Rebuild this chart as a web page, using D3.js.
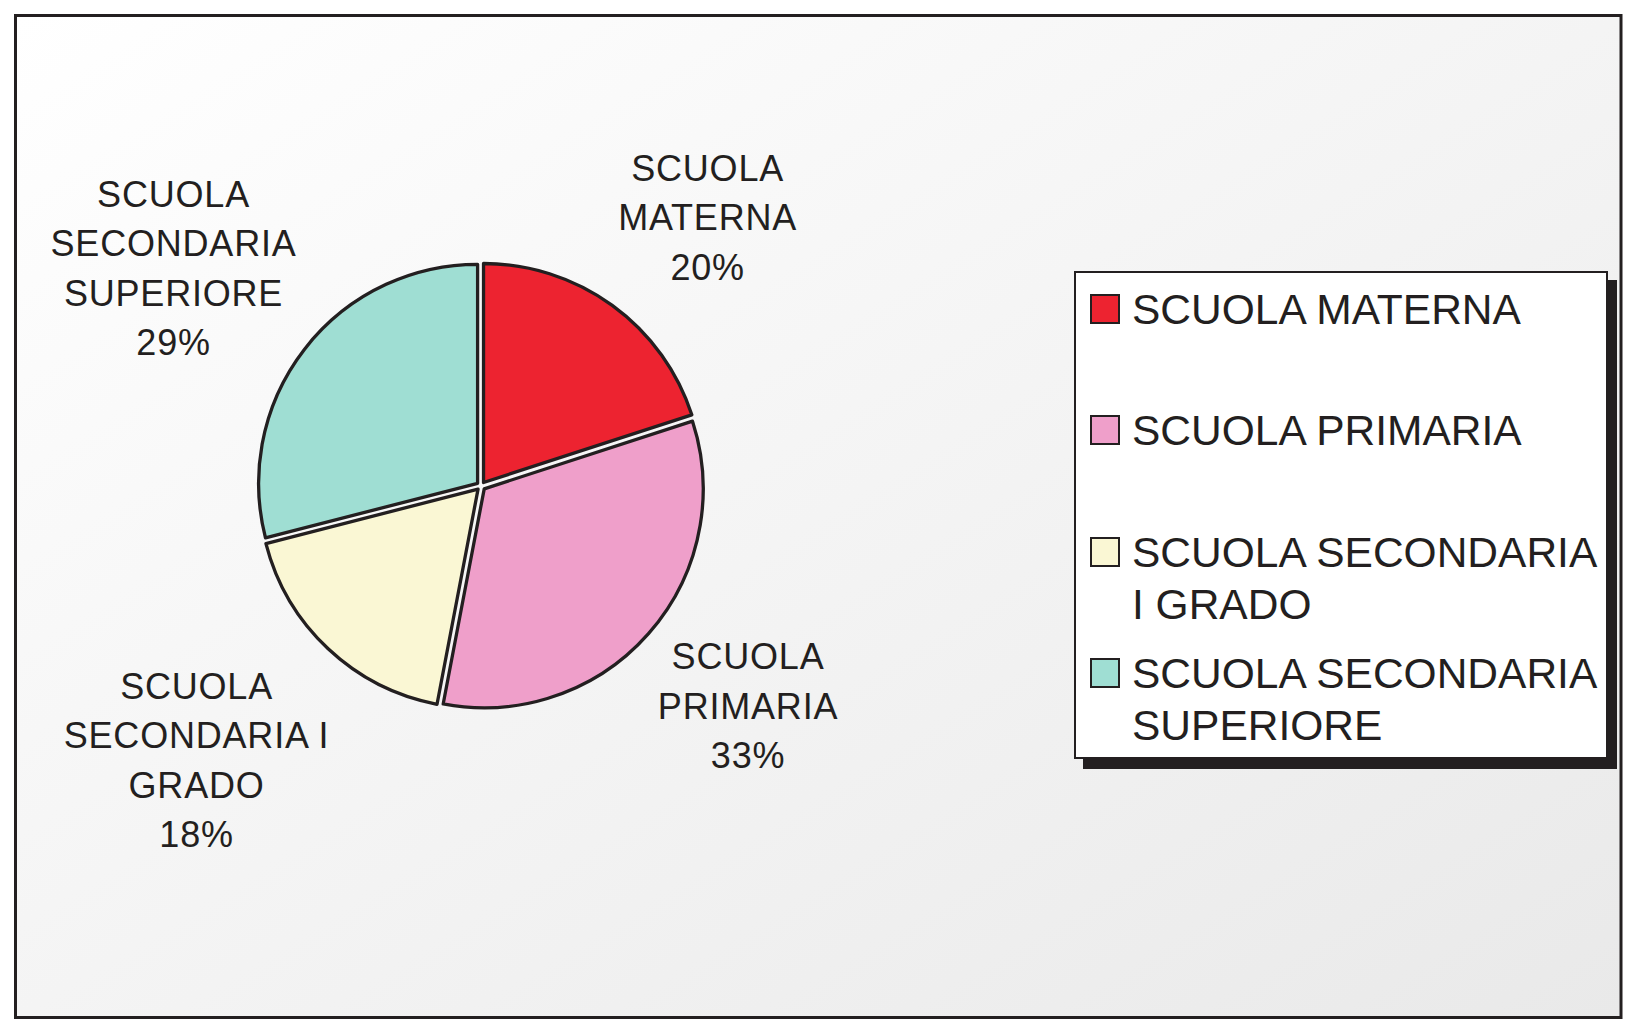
<!DOCTYPE html>
<html>
<head>
<meta charset="utf-8">
<script src="https://cdn.jsdelivr.net/npm/d3@7"></script>
<style>
  html, body { margin: 0; padding: 0; background: #ffffff; }
  svg { display: block; }
  text { font-family: "Liberation Sans", Arial, Helvetica, sans-serif; fill: #231f20; }
</style>
</head>
<body>
<div id="chart"></div>
<script>
// data
var categories = ['SCUOLA MATERNA', 'SCUOLA PRIMARIA', 'SCUOLA SECONDARIA I GRADO', 'SCUOLA SECONDARIA SUPERIORE'];
var values = [20, 33, 18, 29];
var sliceLabels = [['SCUOLA', 'MATERNA'], ['SCUOLA', 'PRIMARIA'], ['SCUOLA', 'SECONDARIA I', 'GRADO'], ['SCUOLA', 'SECONDARIA', 'SUPERIORE']];
var legendLabels = [['SCUOLA MATERNA'], ['SCUOLA PRIMARIA'], ['SCUOLA SECONDARIA', 'I GRADO'], ['SCUOLA SECONDARIA', 'SUPERIORE']];
var colors = ['#ed2330', '#ef9fca', '#faf7d4', '#9fded3'];

var W = 1640, H = 1034;
var ink = '#231f20';

var svg = d3.select('#chart').
    append('svg').
    attr('width', W).
    attr('height', H);

// background gradient + frame
var grad = svg.append('defs').append('linearGradient').
    attr('id', 'bg').
    attr('x1', '0%').attr('y1', '0%').
    attr('x2', '100%').attr('y2', '100%');
grad.append('stop').attr('offset', '0%').attr('stop-color', '#ffffff');
grad.append('stop').attr('offset', '100%').attr('stop-color', '#e9e9e9');

svg.append('rect').
    attr('x', 15.5).attr('y', 15.5).
    attr('width', 1605.5).attr('height', 1002).
    attr('fill', 'url(#bg)').
    attr('stroke', ink).
    attr('stroke-width', 3);

// pie
var cx = 481, cy = 486, r = 219;
var explode = 4.3; // slices pushed out a little so white gaps show

var pie = d3.pie().sort(null).value(function(d) { return d; });
var arcs = pie(values);

var arc = d3.arc().
    innerRadius(0).
    outerRadius(r);

var labelArc = d3.arc().innerRadius(360).outerRadius(360);
// small nudges so labels sit like in the original
var labelNudge = [[15, 23], [-3, -18], [-38, 12], [-23, 3]];

var g = svg.append('g').attr('transform', 'translate(' + cx + ',' + cy + ')');

g.selectAll('path.slice').
    data(arcs).
    enter().
    append('path').
    attr('class', 'slice').
    attr('d', arc).
    attr('transform', function(d) {
	var a = (d.startAngle + d.endAngle) / 2;
	return 'translate(' + (explode * Math.sin(a)) + ',' + (-explode * Math.cos(a)) + ')';
    }).
    attr('fill', function(d, i) { return colors[i]; }).
    attr('stroke', ink).
    attr('stroke-width', 3.3).
    attr('stroke-linejoin', 'round');

var lineH = 49.5;
var labels = g.selectAll('text.lab').
    data(arcs).
    enter().
    append('text').
    attr('class', 'lab').
    attr('text-anchor', 'middle').
    style('font-size', '36px').
    style('letter-spacing', '0.8px').
    attr('transform', function(d, i) {
	var c = labelArc.centroid(d);
	return 'translate(' + (c[0] + labelNudge[i][0]) + ',' + (c[1] + labelNudge[i][1]) + ')';
    });

labels.each(function(d, i) {
    var lines = sliceLabels[i].concat([values[i] + '%']);
    var first = -(lines.length - 1) * lineH / 2 + 12.5;
    d3.select(this).selectAll('tspan').
	data(lines).
	enter().
	append('tspan').
	attr('x', 0).
	attr('y', function(l, j) { return first + j * lineH; }).
	text(function(l) { return l; });
});

// legend
var lg = svg.append('g');
lg.append('rect').
    attr('x', 1083).attr('y', 280).
    attr('width', 534).attr('height', 489).
    attr('fill', ink);
lg.append('rect').
    attr('x', 1075).attr('y', 272).
    attr('width', 532).attr('height', 486).
    attr('fill', '#ffffff').
    attr('stroke', ink).
    attr('stroke-width', 2);

var rowY = [324, 445, 567, 688]; // baselines of first line per entry
var legendLineH = 52;

var items = lg.selectAll('g.item').
    data(categories).
    enter().
    append('g').
    attr('class', 'item');

items.append('rect').
    attr('x', 1091).
    attr('y', function(d, i) { return rowY[i] - 29; }).
    attr('width', 28).attr('height', 28).
    attr('fill', function(d, i) { return colors[i]; }).
    attr('stroke', ink).
    attr('stroke-width', 2);

items.append('text').
    style('font-size', '42.5px').
    each(function(d, i) {
	d3.select(this).selectAll('tspan').
	    data(legendLabels[i]).
	    enter().
	    append('tspan').
	    attr('x', 1132).
	    attr('y', function(l, j) { return rowY[i] + j * legendLineH; }).
	    text(function(l) { return l; });
    });
</script>
</body>
</html>
